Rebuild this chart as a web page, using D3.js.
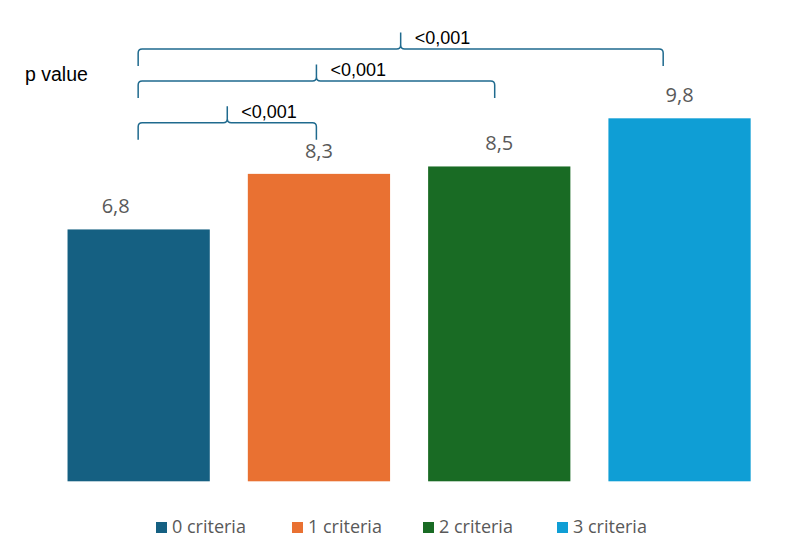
<!DOCTYPE html>
<html>
<head>
<meta charset="utf-8">
<script src="https://cdn.jsdelivr.net/npm/d3@7"></script>
<style>
  html, body { margin: 0; padding: 0; background: #ffffff; }
  svg { display: block; }
</style>
</head>
<body>
<script>
// ---- data ----
const categories = ["0 criteria", "1 criteria", "2 criteria", "3 criteria"];
const values = [6.8, 8.3, 8.5, 9.8];
const valueLabels = ["6,8", "8,3", "8,5", "9,8"];
const colors = ["#156082", "#E97132", "#196B24", "#0F9ED5"];
const comparisonFrom = [0, 0, 0];
const comparisonTo = [1, 2, 3];
const comparisonLabels = ["<0,001", "<0,001", "<0,001"];

// ---- layout ----
const W = 786, H = 559;
const svg = d3.select("body").append("svg").attr("width", W).attr("height", H);

const x = d3.scaleBand().domain(categories).range([48.6, 769.6]).paddingInner(0.211).paddingOuter(0.105);
const y = d3.scaleLinear().domain([0, 12]).range([481.3, 481.3 - 12 * 37.04]);
const bw = x.bandwidth();

// bars
svg.append("g").selectAll("rect").data(categories).join("rect")
  .attr("x", d => x(d))
  .attr("y", (d, i) => y(values[i]))
  .attr("width", bw)
  .attr("height", (d, i) => y(0) - y(values[i]))
  .attr("fill", (d, i) => colors[i]);

// value labels (first label is nudged left in the original to clear the bracket)
const labelShift = [-23, 0, 0, 0];
svg.append("g").selectAll("text").data(categories).join("text")
  .attr("x", (d, i) => x(d) + bw / 2 + labelShift[i])
  .attr("y", (d, i) => y(values[i]) - 16)
  .attr("text-anchor", "middle")
  .attr("font-family", "'Open Sans', sans-serif")
  .attr("font-size", 20)
  .attr("fill", "#595959")
  .text((d, i) => valueLabels[i]);

// p-value brackets
const bracketLevels = [122.7, 81, 49];
const rightFrac = [0.482, 0.468, 0.385];
const drop = 17, rise = 16.5, r = 4;
const bg = svg.append("g").attr("fill", "none").attr("stroke", "#1f6a8e").attr("stroke-width", 1.5);
comparisonFrom.forEach((from, i) => {
  const x1 = x(categories[from]) + bw / 2 - 0.5;
  const x2 = x(categories[comparisonTo[i]]) + bw * rightFrac[i];
  const xm = (x1 + x2) / 2;
  const yh = bracketLevels[i];
  const p = d3.path();
  p.moveTo(x1, yh + drop);
  p.lineTo(x1, yh + r);
  p.quadraticCurveTo(x1, yh, x1 + r, yh);
  p.lineTo(xm - r, yh);
  p.quadraticCurveTo(xm, yh, xm, yh - r);
  p.lineTo(xm, yh - rise);
  p.moveTo(xm, yh - r);
  p.quadraticCurveTo(xm, yh, xm + r, yh);
  p.lineTo(x2 - r, yh);
  p.quadraticCurveTo(x2, yh, x2, yh + r);
  p.lineTo(x2, yh + drop);
  bg.append("path").attr("d", p.toString());
  svg.append("text")
    .attr("x", xm + 14)
    .attr("y", yh - 5)
    .attr("font-family", "'Liberation Sans', Arial, sans-serif")
    .attr("font-size", 18)
    .attr("fill", "#000")
    .text(comparisonLabels[i]);
});

svg.append("text")
  .attr("x", 25).attr("y", 81)
  .attr("font-family", "'Liberation Sans', Arial, sans-serif")
  .attr("font-size", 19.5)
  .attr("fill", "#000")
  .text("p value");

// legend
const legendX = [156, 292, 423, 557];
const lg = svg.append("g").selectAll("g").data(categories).join("g")
  .attr("transform", (d, i) => `translate(${legendX[i]},522)`);
lg.append("rect").attr("width", 11).attr("height", 11).attr("fill", (d, i) => colors[i]);
lg.append("text")
  .attr("x", 16).attr("y", 11)
  .attr("font-family", "'Open Sans', sans-serif")
  .attr("font-size", 18)
  .attr("fill", "#595959")
  .text(d => d);
</script>
</body>
</html>
